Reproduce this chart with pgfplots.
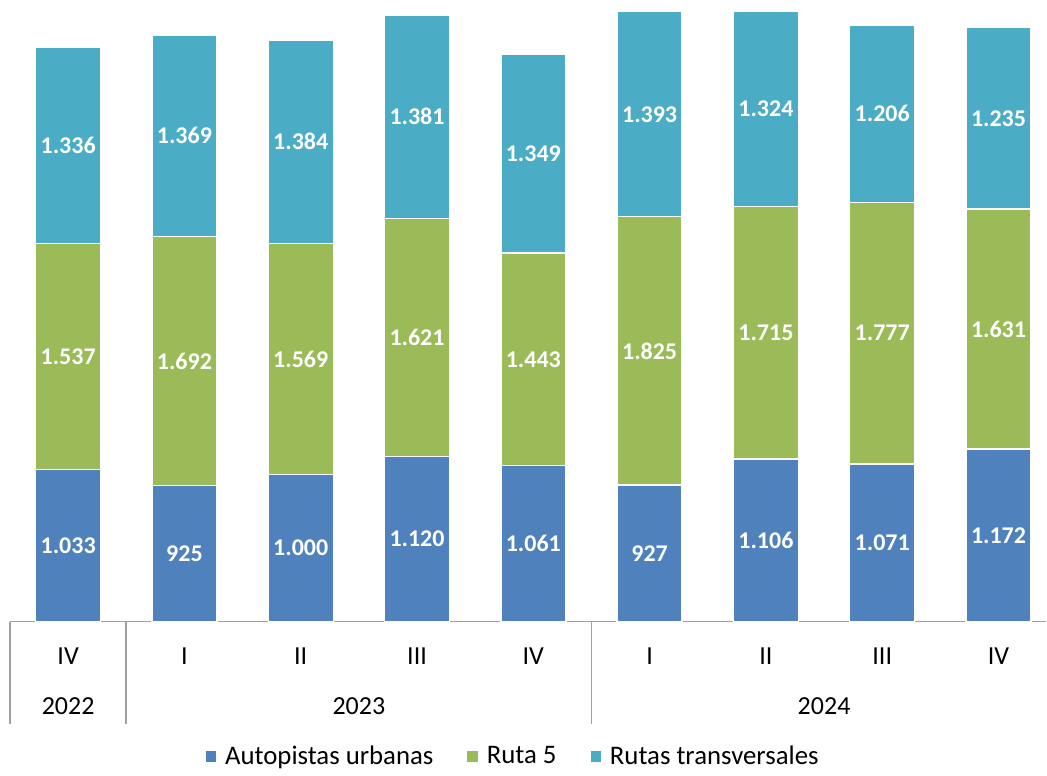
\documentclass[border=0pt]{standalone}
\usepackage{fontspec}
\setmainfont{Carlito}
\usepackage{pgfplots}
\usepackage{pgfplotstable}
\pgfplotsset{compat=1.18}

\definecolor{cAuto}{HTML}{4F81BD}
\definecolor{cRuta}{HTML}{9BBB59}
\definecolor{cTrans}{HTML}{4BACC6}
\definecolor{cLine}{HTML}{A0A0A0}

% cantidades por trimestre
\pgfplotstableread{
x A B C
0 1033 1537 1336
1 925 1692 1369
2 1000 1569 1384
3 1120 1621 1381
4 1061 1443 1349
5 927 1825 1393
6 1106 1715 1324
7 1071 1777 1206
8 1172 1631 1235
}\datos

\begin{document}
\begin{tikzpicture}
\begin{axis}[
  scale only axis,
  width=518.5pt,
  y=0.073609pt,
  ymin=0, ymax=4225,
  xmin=-0.5, xmax=8.41,
  ybar stacked,
  bar width=32.5pt,
  axis x line*=bottom,
  axis y line=none,
  x axis line style={-, cLine, line width=0.8pt},
  ytick=\empty,
  xtick={0,...,8},
  xticklabels={IV,I,II,III,IV,I,II,III,IV},
  major tick length=0pt,
  xticklabel style={anchor=center, yshift=-17.5pt, font=\fontsize{13}{15}\selectfont},
  /pgf/number format/assume math mode=true,
  clip=false,
  every axis plot/.append style={draw=white, line width=0.7pt},
  point meta=explicit symbolic,
  nodes near coords={\pgfmathprintnumber[fixed,precision=0,1000 sep={.}]{\pgfplotspointmeta}},
  every node near coord/.append style={anchor=center, text=white,
    font=\bfseries\fontsize{12}{14}\selectfont},
  legend style={at={(0.4865,-0.217)}, anchor=center, draw=none, fill=none,
    legend columns=3, font=\fontsize{13.4}{16}\selectfont,
    /tikz/every odd column/.append style={column sep=2.5pt},
    /tikz/every even column/.append style={column sep=15pt}},
  legend image code/.code={\path[#1, draw=none] (0pt,-2.6pt) rectangle (5.2pt,2.6pt);},
]
\addplot[fill=cAuto] table[x=x,y=A,meta=A] {\datos};
\addplot[fill=cRuta] table[x=x,y=B,meta=B] {\datos};
\addplot[fill=cTrans] table[x=x,y=C,meta=C] {\datos};
\legend{Autopistas urbanas, Ruta 5, Rutas transversales}

% separadores de años
\draw[cLine, line width=0.8pt] (axis cs:-0.5,0) -- ++(0pt,-51.5pt);
\draw[cLine, line width=0.8pt] (axis cs:0.5,0) -- ++(0pt,-51.5pt);
\draw[cLine, line width=0.8pt] (axis cs:4.5,0) -- ++(0pt,-51.5pt);
\node[font=\fontsize{13}{15}\selectfont] at ([yshift=-42.5pt]axis cs:0,0) {2022};
\node[font=\fontsize{13}{15}\selectfont] at ([yshift=-42.5pt]axis cs:2.5,0) {2023};
\node[font=\fontsize{13}{15}\selectfont] at ([yshift=-42.5pt]axis cs:6.5,0) {2024};
\end{axis}
\path (current axis.south west) ++(-5pt,-74.5pt);
\path (current axis.north east);
\end{tikzpicture}
\end{document}
